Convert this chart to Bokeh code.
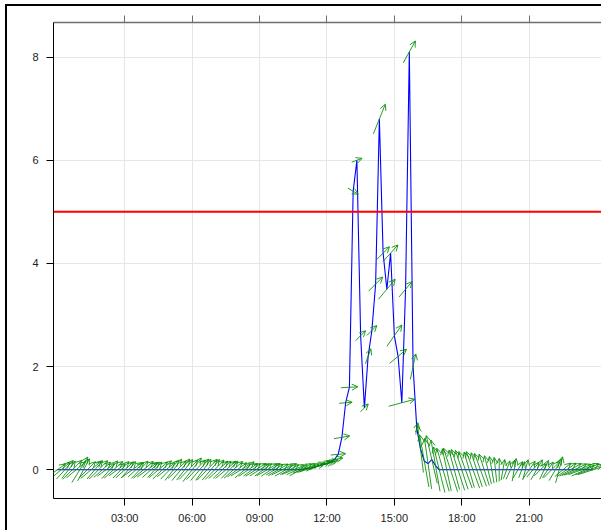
import numpy as np
import pandas as pd
from bokeh.plotting import figure
from bokeh.models import (Range1d, FixedTicker, LinearAxis, Span, Arrow, OpenHead,
                          ColumnDataSource, Div)
from bokeh.layouts import column, row
from bokeh.embed import file_html
from bokeh.resources import INLINE

# ---------------- data (10-minute records) ----------------
start_time = "2000-01-01 00:00"
record_step = "10min"

conc = [
    0, 0, 0, 0, 0, 0,            # 00
    0, 0, 0, 0, 0, 0,            # 01
    0, 0, 0, 0, 0, 0,            # 02
    0, 0, 0, 0, 0, 0,            # 03
    0, 0, 0, 0, 0, 0,            # 04
    0, 0, 0, 0, 0, 0,            # 05
    0, 0, 0, 0, 0, 0,            # 06
    0, 0, 0, 0, 0, 0,            # 07
    0, 0, 0, 0, 0, 0,            # 08
    0, 0, 0, 0, 0, 0,            # 09
    0, 0, 0, 0, 0, 0,            # 10
    0.02, 0.03, 0.04, 0.06, 0.08, 0.10,   # 11
    0.12, 0.15, 0.20, 0.30, 0.63, 1.30,   # 12
    1.60, 5.40, 6.00, 2.60, 1.20, 2.20,   # 13
    2.70, 3.60, 6.80, 4.20, 3.50, 4.20,   # 14
    2.60, 2.20, 1.30, 3.50, 8.10, 2.00,   # 15
    0.80, 0.40, 0.17, 0.12, 0.20, 0.08,   # 16
    0, 0, 0, 0, 0, 0,            # 17
    0, 0, 0, 0, 0, 0,            # 18
    0, 0, 0, 0, 0, 0,            # 19
    0, 0, 0, 0, 0, 0,            # 20
    0, 0, 0, 0, 0, 0,            # 21
    0, 0, 0, 0, 0, 0,            # 22
    0, 0, 0, 0, 0, 0,            # 23
]

wind_speed = [
    4.0, 4.6, 5.0, 4.4, 5.4, 5.0,
    6.0, 5.0, 4.6, 5.4, 4.8, 5.2,
    4.6, 4.2, 4.8, 5.0, 4.0, 4.6,
    4.8, 4.4, 5.0, 4.2, 4.8, 5.2,
    5.0, 4.6, 4.2, 4.8, 5.2, 4.6,
    5.2, 5.4, 5.0, 5.6, 5.2, 5.4,
    6.0, 5.4, 5.6, 5.2, 5.8, 5.4,
    5.4, 5.2, 5.0, 5.4, 4.8, 5.0,
    4.8, 4.6, 5.0, 4.6, 4.2, 4.8,
    4.6, 4.2, 4.8, 4.6, 4.0, 4.6,
    4.6, 5.0, 4.2, 4.8, 4.6, 5.0,
    4.8, 4.6, 5.0, 4.2, 4.6, 4.0,
    3.6, 3.2, 3.4, 3.0, 3.2, 2.6,
    3.4, 2.4, 2.2, 2.8, 2.2, 3.2,
    2.8, 4.0, 6.4, 3.6, 5.2, 4.4,
    5.2, 4.4, 5.4, 4.0, 5.0, 5.2,
    2.4, 9.4, 10.6, 10.2, 9.8, 10.4,
    9.4, 9.0, 8.6, 9.2, 8.2, 8.6,
    8.2, 7.8, 7.4, 7.8, 7.2, 7.0,
    6.6, 5.8, 5.4, 5.0, 4.6, 4.2,
    3.8, 4.2, 4.6, 3.8, 3.4, 4.2,
    4.2, 3.8, 4.6, 3.4, 4.2, 3.8,
    4.6, 5.0, 5.4, 4.2, 4.6, 5.0,
    5.4, 5.8, 5.6, 6.0, 5.8, 6.2,
]

# arrow direction, degrees counter-clockwise from east
wind_dir = [
    35, 40, 48, 52, 45, 40,
    58, 62, 45, 40, 50, 45,
    42, 36, 48, 42, 36, 46,
    42, 48, 36, 42, 46, 40,
    36, 42, 48, 40, 44, 38,
    46, 52, 44, 50, 52, 46,
    52, 46, 50, 54, 46, 50,
    46, 42, 44, 40, 46, 42,
    36, 32, 40, 34, 36, 32,
    32, 36, 30, 34, 32, 30,
    26, 30, 28, 22, 25, 28,
    20, 22, 18, 25, 20, 15,
    15, 15, 10, 5, 10, 5,
    3, -30, 20, 45, 45, 70,
    45, 45, 68, 45, 50, 48,
    55, 40, 15, 50, 61, 78,
    80, 97, 100, 98, 103, 100,
    104, 106, 102, 108, 105, 108,
    108, 110, 106, 110, 108, 110,
    108, 104, 100, 96, 90, 80,
    70, 65, 80, 60, 70, 75,
    55, 50, 60, 45, 65, 55,
    45, 60, 75, 40, 35, 30,
    25, 22, 20, 24, 20, 18,
]

threshold = 5
y_ticks = [0, 2, 4, 6, 8]
x_ticks = [3, 6, 9, 12, 15, 18, 21]
x_tick_labels = ["03:00", "06:00", "09:00", "12:00", "15:00", "18:00", "21:00"]

# ---------------- layout constants ----------------
W, H = 594, 524
ML, MR, MT, MB = 46, 0, 16, 32
X0, X1 = -0.17, 24.22
Y0, Y1 = -0.556, 8.67
ARROW_PX_PER_UNIT = 5.0
GREEN = "#008b00"
FONT = "Liberation Sans"

times = pd.date_range(start_time, periods=len(conc), freq=record_step)
hours = np.asarray((times - times[0]).total_seconds() / 3600.0)
conc_a = np.asarray(conc, dtype=float)

px_per_hour = (W - ML - MR) / (X1 - X0)
px_per_unit = (H - MT - MB) / (Y1 - Y0)
L = np.asarray(wind_speed) * ARROW_PX_PER_UNIT
ang = np.radians(np.asarray(wind_dir, dtype=float))
dx = L * np.cos(ang) / px_per_hour
dy = L * np.sin(ang) / px_per_unit

arrow_src = ColumnDataSource(dict(
    x0=hours - dx / 2, y0=conc_a - dy / 2,
    x1=hours + dx / 2, y1=conc_a + dy / 2,
))

p = figure(width=W, height=H, x_range=Range1d(X0, X1), y_range=Range1d(Y0, Y1),
           output_backend="svg", toolbar_location=None, margin=0,
           min_border_left=ML, min_border_right=MR, min_border_top=MT, min_border_bottom=MB)
p.outline_line_color = None
p.background_fill_color = "white"
p.border_fill_color = "white"

def style_axis(ax, labels=True, line_color="black"):
    ax.axis_line_color = line_color
    ax.axis_line_width = 1
    ax.major_tick_line_color = line_color
    ax.major_tick_out = 7
    ax.major_tick_in = 0
    ax.minor_tick_line_color = None
    ax.major_label_text_font = FONT
    ax.major_label_text_font_size = "11px" if labels else "0px"
    ax.major_label_text_color = "#222222"

ya = p.yaxis[0]
ya.ticker = FixedTicker(ticks=y_ticks)
style_axis(ya)
ya.major_label_standoff = 8

xa = p.xaxis[0]
xa.ticker = FixedTicker(ticks=x_ticks)
xa.major_label_overrides = {t: s for t, s in zip(x_ticks, x_tick_labels)}
style_axis(xa)
xa.major_label_standoff = 6

top = LinearAxis(ticker=FixedTicker(ticks=x_ticks),
                 major_label_overrides={t: "" for t in x_ticks})
style_axis(top, labels=False, line_color="#6e6e6e")
top.axis_line_width = 1.5
top.major_label_standoff = 0
p.add_layout(top, "above")

p.xgrid.ticker = FixedTicker(ticks=x_ticks)
p.ygrid.ticker = FixedTicker(ticks=y_ticks)
for g in (p.xgrid[0], p.ygrid[0]):
    g.grid_line_color = "#e6e6e6"
    g.grid_line_width = 1

p.line(hours, conc_a, line_color="blue", line_width=1.1)

p.add_layout(Arrow(end=OpenHead(size=6, line_color=GREEN, line_width=1, line_alpha=0.85),
                   x_start="x0", y_start="y0", x_end="x1", y_end="y1",
                   source=arrow_src, line_color=GREEN, line_width=1, line_alpha=0.85))

p.add_layout(Span(location=threshold, dimension="width", line_color="red", line_width=2))

# thick black page border on the left and top
top_bar = Div(text="", width=W + 2, height=2, margin=0,
              styles={"background-color": "black"})
left_bar = Div(text="", width=2, height=H, margin=0,
               styles={"background-color": "black"})
layout = column(top_bar, row(left_bar, p, spacing=0, margin=0),
                spacing=0, margin=(4, 0, 0, 5))

open("out.html", "w").write(file_html(layout, INLINE))
